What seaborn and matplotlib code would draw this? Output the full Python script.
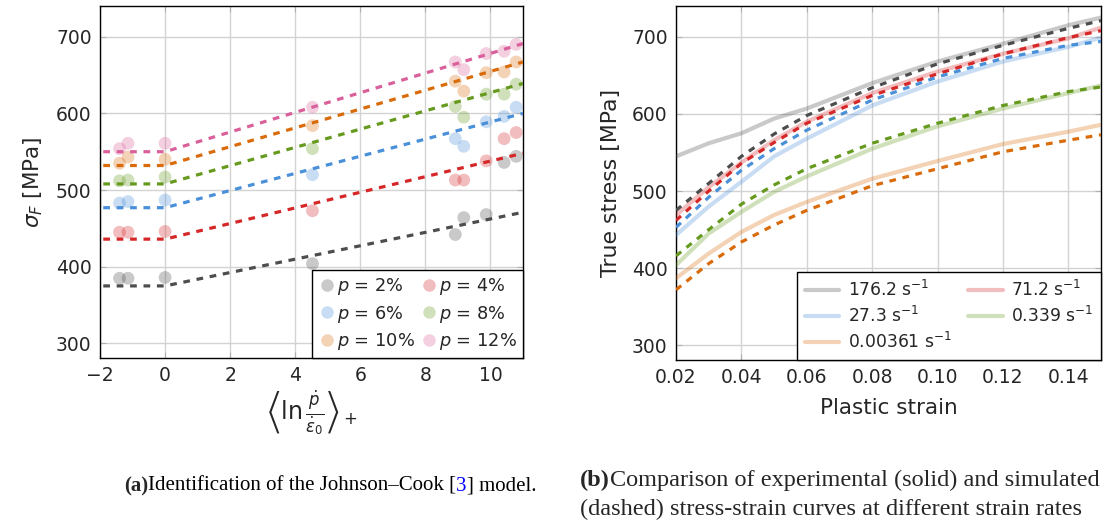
from matplotlib import pyplot as plt
from matplotlib.lines import Line2D
import seaborn as sns
import numpy as np
import pandas as pd

# ---- left panel: Johnson-Cook identification ----
rate_exp = [-1.40, -1.14, 0.0, 4.53, 8.92, 9.18, 9.87, 10.42, 10.79]
sig_p2 = [385, 385, 386, 404, 442, 464, 468, 536, 544]
sig_p4 = [445, 445, 446, 473, 513, 513, 538, 567, 575]
sig_p6 = [483, 485, 487, 520, 567, 557, 589, 596, 608]
sig_p8 = [512, 513, 517, 554, 609, 595, 625, 625, 638]
sig_p10 = [535, 543, 540, 584, 642, 629, 653, 654, 667]
sig_p12 = [554, 561, 561, 608, 667, 657, 678, 681, 690]

rate_model = [-1.9, 0.0, 11.0]
jc_p2 = [375, 375, 471]
jc_p4 = [436, 436, 548]
jc_p6 = [477, 477, 600]
jc_p8 = [508, 508, 639]
jc_p10 = [532, 532, 667]
jc_p12 = [550, 550, 691]

p_labels = ['2%', '4%', '6%', '8%', '10%', '12%']

# ---- right panel: stress-strain curves ----
strain = [0.02, 0.03, 0.04, 0.05, 0.06, 0.08, 0.10, 0.12, 0.14, 0.15]
exp_176 = [545, 562, 575, 594, 607, 640, 668, 691, 715, 725]
sim_176 = [475, 510, 545, 574, 598, 634, 665, 689, 711, 721]
exp_71 = [469, 505, 537, 566, 590, 627, 655, 678, 698, 712]
sim_71 = [462, 500, 536, 563, 588, 624, 652, 678, 699, 708]
exp_27 = [443, 480, 512, 545, 568, 611, 642, 668, 687, 699]
sim_27 = [453, 492, 527, 555, 579, 618, 648, 672, 689, 694]
exp_0339 = [404, 445, 473, 499, 519, 555, 584, 607, 627, 637]
sim_0339 = [416, 450, 483, 508, 529, 562, 588, 611, 629, 635]
exp_000361 = [387, 419, 447, 469, 486, 516, 539, 561, 577, 586]
sim_000361 = [372, 406, 434, 456, 475, 507, 529, 551, 566, 573]

rate_labels = ['176.2', '71.2', '27.3', '0.339', '0.00361']

# colors (dark for model, light = same with alpha)
c_gray = '#4d4d4d'
c_red = '#d62728'
c_blue = '#4a90d9'
c_green = '#669a1f'
c_orange = '#d96b0a'
c_pink = '#d9609a'
LIGHT = 0.3
DASH = (0, (2.1, 2.1))

sns.set_style('white')
plt.rcParams['font.family'] = ['DejaVu Sans']
plt.rcParams['mathtext.fontset'] = 'dejavusans'

fig = plt.figure(figsize=(11.15, 5.26), dpi=100)
ax1 = fig.add_axes([100 / 1115, 168 / 526, 423 / 1115, 352 / 526])
ax2 = fig.add_axes([676 / 1115, 166 / 526, 425 / 1115, 354 / 526])

left_colors = [c_gray, c_red, c_blue, c_green, c_orange, c_pink]
exp_sets = [sig_p2, sig_p4, sig_p6, sig_p8, sig_p10, sig_p12]
jc_sets = [jc_p2, jc_p4, jc_p6, jc_p8, jc_p10, jc_p12]

df_exp = pd.DataFrame({
    'rate': rate_exp * 6,
    'sigma': sum(exp_sets, []),
    'p': np.repeat(p_labels, len(rate_exp)),
})
sns.scatterplot(data=df_exp, x='rate', y='sigma', hue='p', palette=left_colors,
                s=85, alpha=LIGHT, edgecolor='none', legend=False, ax=ax1, zorder=3)
for jc, col in zip(jc_sets, left_colors):
    sns.lineplot(x=rate_model, y=jc, color=col, lw=2.3, linestyle=DASH, ax=ax1, zorder=4)

handles = [Line2D([], [], marker='o', ls='none', color=c, alpha=LIGHT, markersize=9,
                  markeredgewidth=0) for c in left_colors]
labels = [r'$p$ = ' + lab for lab in p_labels]
order = [0, 2, 4, 1, 3, 5]
ax1.legend([handles[i] for i in order], [labels[i] for i in order], ncol=2,
           loc='lower right', borderaxespad=0, fontsize=12.8, fancybox=False,
           edgecolor='black', framealpha=1, handletextpad=0.05, columnspacing=0.3,
           handlelength=1.0, borderpad=0.35, labelspacing=0.35)

ax1.set_xlim(-2, 11)
ax1.set_ylim(281, 740)
ax1.set_xticks(np.arange(-2, 11, 2))
ax1.set_yticks(np.arange(300, 701, 100))
ax1.set_xticklabels(['\u22122', '0', '2', '4', '6', '8', '10'])
ax1.set_ylabel(r'$\sigma_F$ [MPa]', fontsize=15.5, labelpad=8)
ax1.set_xlabel(r'$\left\langle \ln \frac{\dot{p}}{\dot{\varepsilon}_0} \right\rangle_+$',
               fontsize=17, labelpad=2)

# right panel
right_colors = [c_gray, c_red, c_blue, c_green, c_orange]
exp_curves = [exp_176, exp_71, exp_27, exp_0339, exp_000361]
sim_curves = [sim_176, sim_71, sim_27, sim_0339, sim_000361]
for e, c in zip(exp_curves, right_colors):
    sns.lineplot(x=strain, y=e, color=c, alpha=LIGHT, lw=3, ax=ax2, zorder=3)
for s_, c in zip(sim_curves, right_colors):
    sns.lineplot(x=strain, y=s_, color=c, lw=2.3, linestyle=DASH, ax=ax2, zorder=4)

rh = [Line2D([], [], color=c, alpha=LIGHT, lw=3) for c in right_colors]
rl = [lab + r' s$^{-1}$' for lab in rate_labels]
order = [0, 2, 4, 1, 3]
ax2.legend([rh[i] for i in order], [rl[i] for i in order], ncol=2, loc='lower right',
           borderaxespad=0, fontsize=12.3, fancybox=False, edgecolor='black',
           framealpha=1, handlelength=2.0, handletextpad=0.5, columnspacing=1.0,
           borderpad=0.45, labelspacing=0.35)

ax2.set_xlim(0.02, 0.15)
ax2.set_ylim(281, 740)
ax2.set_xticks(np.arange(0.02, 0.141, 0.02))
ax2.set_xticklabels(['0.02', '0.04', '0.06', '0.08', '0.10', '0.12', '0.14'])
ax2.set_yticks(np.arange(300, 701, 100))
ax2.set_ylabel('True stress [MPa]', fontsize=15.8, labelpad=8)
ax2.set_xlabel('Plastic strain', fontsize=15.5, labelpad=8)

for ax in (ax1, ax2):
    ax.grid(True, color='#d3d3d3', lw=1)
    ax.set_axisbelow(True)
    ax.tick_params(direction='in', length=4, width=0.8, color='#b0b0b0',
                   labelsize=13.5, top=True, right=True, bottom=True, left=True,
                   pad=6)
    for sp in ax.spines.values():
        sp.set_color('black')
        sp.set_linewidth(1.0)

# captions (serif, chained pieces)
cap_a = dict(family='Liberation Serif', fontsize=15, ha='left')
t = fig.text(124 / 1115, 1 - 491 / 526, '(a)', fontweight='bold', va='baseline', **cap_a)
for piece, col in [('Identification of the Johnson\u2013Cook [', 'black'), ('3', 'blue'),
                   ('] model.', 'black')]:
    t = ax1.annotate(piece, xy=(1, 0), xycoords=t, color=col, va='bottom',
                     annotation_clip=False, **cap_a)

cap_b = dict(family='Liberation Serif', fontsize=17.5, ha='left')
t = fig.text(580 / 1115, 1 - 486 / 526, '(b)', fontweight='bold', va='baseline', **cap_b)
ax2.annotate('Comparison of experimental (solid) and simulated', xy=(1, 0), xycoords=t,
             va='bottom', annotation_clip=False, **cap_b)
fig.text(580 / 1115, 1 - 515 / 526, '(dashed) stress-strain curves at different strain rates',
         va='baseline', **cap_b)

fig.savefig('out.png', dpi=100)
